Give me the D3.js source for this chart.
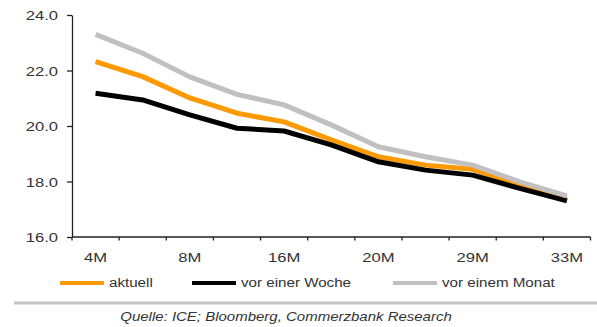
<!DOCTYPE html>
<html>
<head>
<meta charset="utf-8">
<script src="https://cdn.jsdelivr.net/npm/d3@7"></script>
<style>
  html, body { margin: 0; padding: 0; background: #fff; }
  text { font-family: "Liberation Sans", Arial, sans-serif; fill: #333; }
</style>
</head>
<body>
<div id="chart"></div>
<script>
// Laufzeiten (only every other one is labelled in the original)
const maturities = ["4M", "6M", "8M", "12M", "16M", "18M", "20M", "26M", "29M", "31M", "33M"];
const labelledMaturities = ["4M", "8M", "16M", "20M", "29M", "33M"];
const yTicks = [16, 18, 20, 22, 24];

// curves
const aktuell    = [22.32, 21.78, 21.01, 20.46, 20.15, 19.50, 18.89, 18.59, 18.44, 17.87, 17.36];
const vorWoche   = [21.18, 20.94, 20.40, 19.92, 19.82, 19.32, 18.71, 18.41, 18.23, 17.75, 17.30];
const vorMonat   = [23.30, 22.62, 21.77, 21.14, 20.76, 20.04, 19.25, 18.89, 18.59, 17.99, 17.48];

const seriesNames = ["aktuell", "vor einer Woche", "vor einem Monat"];
const seriesColors = ["#ff9900", "#000000", "#c0c0c0"];
const seriesValues = [aktuell, vorWoche, vorMonat];

// 1. Setup
const width = 597, height = 327;
const margin = { top: 15, right: 6.5, bottom: 90, left: 72 };
const STRETCH = 1.33; // the source lettering is wide

const svg = d3.select("#chart").append("svg")
    .attr("width", width)
    .attr("height", height);

const x = d3.scaleBand()
    .domain(maturities)
    .range([margin.left, width - margin.right]);

const y = d3.scaleLinear()
    .domain([16, 24])
    .range([height - margin.bottom, margin.top]);

const cx = d => x(d) + x.bandwidth() / 2;

// 2. Axes
const yAxis = svg.append("g")
    .attr("transform", `translate(${margin.left},0)`)
    .call(d3.axisLeft(y).tickValues(yTicks).tickSize(5).tickSizeOuter(0).tickFormat(d3.format(".1f")));
yAxis.select(".domain").attr("stroke", "#222").attr("stroke-width", 1.3);
yAxis.selectAll(".tick line").attr("stroke", "#222").attr("stroke-width", 1.3);
yAxis.selectAll(".tick text")
    .attr("x", -14 / STRETCH)
    .attr("dy", "0.36em")
    .attr("transform", `scale(${STRETCH},1)`)
    .attr("font-size", "12.5px")
    .style("fill", "#333");

// x axis: line plus small ticks at category boundaries
const x0 = y(16);
svg.append("line")
    .attr("x1", margin.left).attr("x2", width - margin.right)
    .attr("y1", x0).attr("y2", x0)
    .attr("stroke", "#222").attr("stroke-width", 1.3);

const edges = maturities.map(d => x(d)).concat([x.range()[1]]);
svg.append("g").selectAll("line")
    .data(edges)
    .join("line")
    .attr("x1", d => d).attr("x2", d => d)
    .attr("y1", x0).attr("y2", x0 + 3.5)
    .attr("stroke", "#222").attr("stroke-width", 1.3);

svg.append("g").selectAll("text")
    .data(labelledMaturities)
    .join("text")
    .attr("transform", d => `translate(${cx(d)},${x0 + 25}) scale(${STRETCH},1)`)
    .attr("text-anchor", "middle")
    .attr("font-size", "12.5px")
    .text(d => d);

// 3. Lines
const line = d3.line()
    .x((d, i) => cx(maturities[i]))
    .y(d => y(d));

svg.append("g").selectAll("path")
    .data(seriesValues)
    .join("path")
    .attr("fill", "none")
    .attr("stroke", (d, i) => seriesColors[i])
    .attr("stroke-width", 5)
    .attr("stroke-linejoin", "round")
    .attr("d", line);

// 4. Legend
const legendX = [60, 192, 393];
const legend = svg.append("g").selectAll("g")
    .data(seriesNames)
    .join("g")
    .attr("transform", (d, i) => `translate(${legendX[i]},283)`);

legend.append("line")
    .attr("x1", 0).attr("x2", 44)
    .attr("stroke", (d, i) => seriesColors[i])
    .attr("stroke-width", 4);

legend.append("text")
    .attr("transform", `translate(49,0) scale(${STRETCH * 0.95},1)`)
    .attr("dy", "0.36em")
    .attr("font-size", "12px")
    .text(d => d);

// 5. Separator and source
svg.append("rect")
    .attr("x", 14).attr("y", 301.5)
    .attr("width", width - 14).attr("height", 3)
    .attr("fill", "#c4c4c4");

svg.append("text")
    .attr("transform", `translate(286,321) scale(1.2,1)`)
    .attr("text-anchor", "middle")
    .attr("font-size", "12.5px")
    .attr("font-style", "italic")
    .text("Quelle: ICE; Bloomberg, Commerzbank Research");
</script>
</body>
</html>
